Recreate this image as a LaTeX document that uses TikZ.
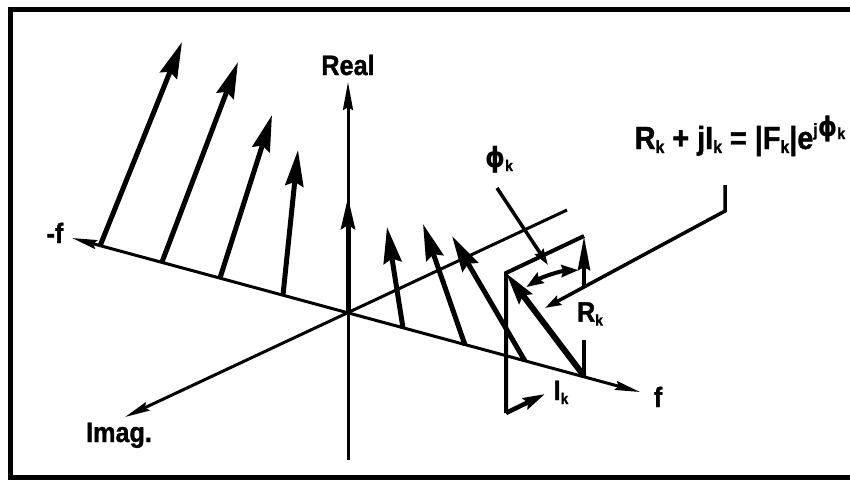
\documentclass[tikz,border=0pt]{standalone}
\usepackage{fontspec}
\setmainfont{Liberation Sans}[FakeStretch=0.9, BoldFeatures={FakeBold=1.2}]
\newfontfamily\phifont{DejaVu Sans}[FakeStretch=0.9]
\usepackage{graphicx}
\usetikzlibrary{arrows.meta,calc}
\newcommand{\kk}{\raisebox{-4pt}{\scalebox{0.55}{k}}}
\tikzset{
  lbl/.style={font=\bfseries\fontsize{28}{30}\selectfont, inner sep=0pt},
  axis/.style={line width=3pt, -{Stealth[length=25pt,width=9pt,inset=3pt]}},
  vec/.style={line width=5pt, -{Stealth[length=36pt,width=18pt,inset=4pt]}},
  thinvec/.style={line width=4.5pt, -{Stealth[length=34pt,width=12pt,inset=3pt]}},
  edge/.style={line width=4pt},
  ptr/.style={line width=3.5pt, -{Stealth[length=16pt,width=10pt,inset=2pt]}},
}
\begin{document}
\begin{tikzpicture}[x=1pt,y=-1pt,line join=miter]
  \useasboundingbox (0,0) rectangle (850,479);
  \draw[line width=5pt] (862,9) -- (10,9) -- (10,477) -- (862,477);
  % axes
  \coordinate (O) at (348,313);
  \coordinate (realbot) at (348,460);
  \coordinate (realtop) at (348,82);
  \coordinate (fneg) at (72,238);
  \coordinate (fpos) at (640,392);
  \coordinate (imagend) at (567,210);
  \coordinate (imagtip) at (125,417);
  \draw[axis, -{Stealth[length=28pt,width=10pt,inset=3pt]}] (realbot) -- (realtop);
  \draw[axis, {Stealth[length=25pt,width=9pt,inset=3pt]}-{Stealth[length=25pt,width=9pt,inset=3pt]}] (fneg) -- (fpos);
  \draw[axis] (imagend) -- (imagtip);
  \node[lbl, anchor=base] (real) at (348,75) {Real};
  \node[lbl, anchor=base] (minusf) at (55,243) {-f};
  \node[lbl, anchor=base] (plusf) at (658,407) {f};
  \node[lbl, anchor=base] (imag) at (119,442) {Imag.};
  % spectral lines
  \draw[vec, -{Stealth[length=32pt,width=14pt,inset=4pt]}] (O) -- (348,197);
  \foreach \bx/\by/\tx/\ty in {100/246/182/42, 162/262/238/62, 220/278/272/115,
      283/295/298/150, 403/328/387/227, 465/345/423/224, 525/361/452/236}
    \draw[vec] (\bx,\by) -- (\tx,\ty);
  % k-th component
  \coordinate (B) at (584,376);
  \coordinate (Rtop) at (584,236);
  \coordinate (T) at (506,273);
  \coordinate (Icorner) at (506,413);
  \coordinate (itip) at (545,394);
  \draw[edge] (Rtop) -- (T) -- (Icorner);
  \draw[line width=6pt, -{Stealth[length=32pt,width=16pt,inset=4pt]}] (B) -- (T);
  \node[lbl, minimum height=52pt] (Rk) at (590,314) {R\kk};
  \draw[edge] (B) -- (B |- Rk.south);
  \draw[thinvec] (B |- Rk.north) -- (Rtop);
  \draw[thinvec, -{Stealth[length=22pt,width=12pt,inset=3pt]}] (Icorner) -- (itip);
  \node[lbl, anchor=base] (Ik) at (561,400) {I\kk};
  \draw[line width=4pt, {Stealth[length=17pt,width=12pt,inset=2pt]}-{Stealth[length=17pt,width=12pt,inset=2pt]}]
    ($(B)+(-123:106)$) arc[start angle=-123, end angle=-93, radius=106];
  % labels and pointers
  \node[lbl, anchor=base] (phik) at (499,167) {{\phifont ϕ}\kk};
  \coordinate (phitip) at (548,265);
  \draw[ptr] (497,188) -- (phitip);
  \node[lbl, anchor=base, font=\bfseries\fontsize{32}{34}\selectfont] (formula) at (740,149)
    {R\kk{} + jI\kk{} = |F\kk|e\raisebox{13pt}{\scalebox{0.55}{j}\scalebox{0.85}{\phifont ϕ}\raisebox{-3pt}{\scalebox{0.5}{k}}}};
  \coordinate (fp1) at (725,185);
  \coordinate (fp2) at (725,211);
  \coordinate (fptip) at (545,308);
  \draw[ptr] (fp1) -- (fp2) -- (fptip);
\end{tikzpicture}
\end{document}
